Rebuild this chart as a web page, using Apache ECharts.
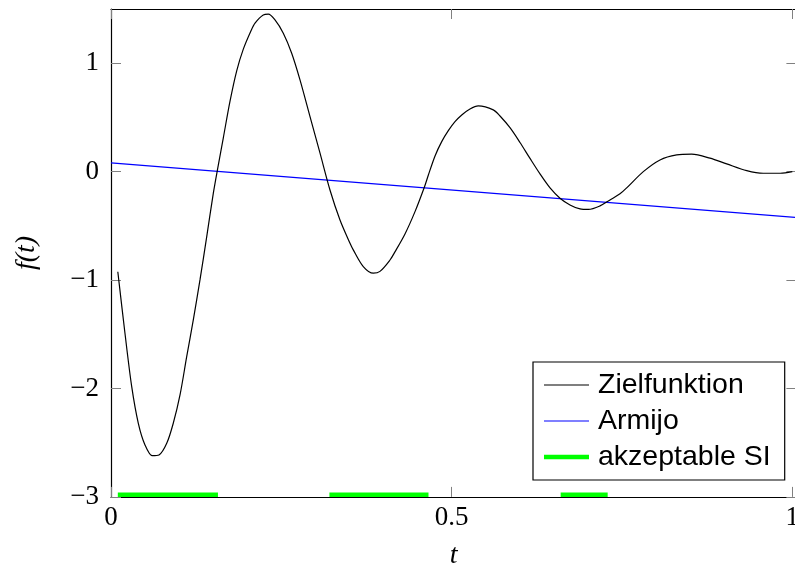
<!DOCTYPE html>
<html>
<head>
<meta charset="utf-8">
<script src="https://cdn.jsdelivr.net/npm/echarts@6/dist/echarts.min.js"></script>
<style>
  html, body { margin: 0; padding: 0; background: #fff; }
  #chart { width: 795px; height: 565px; }
</style>
</head>
<body>
<div id="chart"></div>
<script>
// ---- data ----
const zielT = [0.010, 0.0205, 0.0304, 0.0401, 0.0499, 0.0606, 0.0705, 0.0818, 0.0914, 0.1013,
  0.1111, 0.1208, 0.1306, 0.1405, 0.1502, 0.1575, 0.1648, 0.1747, 0.1845, 0.1942,
  0.2055, 0.2114, 0.2235, 0.2309, 0.2407, 0.2529, 0.2652, 0.2774, 0.2921, 0.3068,
  0.3214, 0.3361, 0.3508, 0.3556, 0.3703, 0.3850, 0.3948, 0.4095, 0.4168, 0.4315,
  0.4462, 0.4599, 0.4657, 0.4756, 0.4854, 0.4951, 0.5049, 0.5148, 0.5269, 0.5391,
  0.5611, 0.5710, 0.5856, 0.6003, 0.6150, 0.6297, 0.6444, 0.6590, 0.6737, 0.6884,
  0.7006, 0.7177, 0.7324, 0.7471, 0.7569, 0.7813, 0.8058, 0.8303, 0.8523, 0.8792,
  0.9037, 0.9331, 0.9574, 0.9823, 1.000];
const zielF = [-0.923, -1.491, -1.983, -2.321, -2.521, -2.620, -2.613, -2.506, -2.321, -2.060,
  -1.707, -1.368, -0.999, -0.600, -0.199, 0.060, 0.310, 0.650, 0.930, 1.130,
  1.300, 1.370, 1.445, 1.452, 1.399, 1.277, 1.092, 0.846, 0.507, 0.170,
  -0.169, -0.446, -0.661, -0.722, -0.876, -0.937, -0.920, -0.815, -0.740, -0.575,
  -0.369, -0.144, -0.033, 0.145, 0.277, 0.378, 0.461, 0.523, 0.578, 0.606,
  0.570, 0.513, 0.405, 0.269, 0.122, -0.021, -0.150, -0.245, -0.307, -0.344,
  -0.349, -0.316, -0.261, -0.205, -0.150, 0.000, 0.108, 0.154, 0.161, 0.124,
  0.071, 0.009, -0.015, -0.015, 0.000];

const armijoT = [0, 1.006];
const armijoF = [0.08, -0.423];

const siStart = [0.010, 0.3206, 0.660];
const siEnd   = [0.157, 0.466, 0.729];
const siLevel = -2.98;

const xTicks = [0, 0.5, 1];
const yTicks = [-3, -2, -1, 0, 1];
const legendNames = ['Zielfunktion', 'Armijo', 'akzeptable SI'];

// ---- build series data ----
const zielData = zielT.map((t, i) => [t, zielF[i]]);
const armijoData = armijoT.map((t, i) => [t, armijoF[i]]);
const siData = [];
siStart.forEach((s, i) => {
  siData.push([s, siLevel]);
  siData.push([siEnd[i], siLevel]);
  siData.push([siEnd[i], null]);
});

const serifFont = '"Liberation Serif", "DejaVu Serif", serif';
const sansFont = '"Liberation Sans", Arial, sans-serif';
const tickColor = '#808080';
const fmtNum = v => {
  const s = (Math.round(v * 1000) / 1000).toString();
  return s.replace('-', '\u2212');
};

const chart = echarts.init(document.getElementById('chart'), null, { renderer: 'canvas' });
chart.setOption({
  animation: false,
  backgroundColor: '#ffffff',
  grid: { left: 111, right: -1.4, top: 9, bottom: 68.1, containLabel: false, outerBoundsMode: 'none' },
  xAxis: [
    {
      type: 'value', position: 'bottom', min: 0, max: 1.006, interval: 0.5,
      name: 't', nameLocation: 'middle', nameGap: 45,
      nameTextStyle: { fontFamily: serifFont, fontStyle: 'italic', fontSize: 28, color: '#000' },
      axisLine: { show: true, onZero: false, lineStyle: { color: '#000', width: 1.2 } },
      axisTick: { show: true, inside: true, length: 10, customValues: xTicks, lineStyle: { color: tickColor, width: 1 } },
      axisLabel: { show: true, customValues: xTicks, margin: 8, formatter: fmtNum,
        fontFamily: serifFont, fontSize: 27, color: '#000' },
      splitLine: { show: false }
    },
    {
      type: 'value', position: 'top', min: 0, max: 1.006, interval: 0.5,
      axisLine: { show: true, onZero: false, lineStyle: { color: '#000', width: 1.2 } },
      axisTick: { show: true, inside: true, length: 10, customValues: xTicks, lineStyle: { color: tickColor, width: 1 } },
      axisLabel: { show: false },
      splitLine: { show: false }
    }
  ],
  yAxis: [
    {
      type: 'value', position: 'left', min: -3, max: 1.5, interval: 1,
      name: 'f(t)', nameLocation: 'middle', nameGap: 70, nameRotate: 90,
      nameTextStyle: { fontFamily: serifFont, fontStyle: 'italic', fontSize: 28, color: '#000' },
      axisLine: { show: true, onZero: false, lineStyle: { color: '#000', width: 1.2 } },
      axisTick: { show: true, inside: true, length: 10, customValues: yTicks, lineStyle: { color: tickColor, width: 1 } },
      axisLabel: { show: true, customValues: yTicks, margin: 12, formatter: fmtNum,
        fontFamily: serifFont, fontSize: 27, color: '#000' },
      splitLine: { show: false }
    },
    {
      type: 'value', position: 'right', min: -3, max: 1.5, interval: 1,
      axisLine: { show: true, onZero: false, lineStyle: { color: '#000', width: 1.2 } },
      axisTick: { show: true, inside: true, length: 10, customValues: yTicks, lineStyle: { color: tickColor, width: 1 } },
      axisLabel: { show: false },
      splitLine: { show: false }
    }
  ],
  legend: {
    orient: 'vertical', left: 533, top: 362,
    padding: [8, 14, 8, 11],
    backgroundColor: '#fff', borderColor: '#000', borderWidth: 1.2, borderRadius: 0,
    itemWidth: 45, itemHeight: 14, itemGap: 6,
    itemStyle: { borderWidth: 0 },
    textStyle: { fontFamily: sansFont, fontSize: 28.5, color: '#000', lineHeight: 30, padding: [0, 0, 0, 4] },
    data: [
      { name: legendNames[0], icon: 'path://M0,0H45V1.2H0Z' },
      { name: legendNames[1], icon: 'path://M0,0H45V1.2H0Z' },
      { name: legendNames[2], icon: 'path://M0,0H45V4.3H0Z' }
    ]
  },
  series: [
    {
      name: legendNames[0], type: 'line', data: zielData, symbol: 'none', showSymbol: false,
      smooth: 0.3,
      lineStyle: { color: '#000', width: 1.2 }, itemStyle: { color: '#000' }, z: 3
    },
    {
      name: legendNames[1], type: 'line', data: armijoData, symbol: 'none', showSymbol: false,
      lineStyle: { color: '#0000ff', width: 1.2 }, itemStyle: { color: '#0000ff' }, z: 2
    },
    {
      name: legendNames[2], type: 'line', data: siData, symbol: 'none', showSymbol: false,
      connectNulls: false,
      lineStyle: { color: '#00ff00', width: 4.3, cap: 'butt' }, itemStyle: { color: '#00ff00' }, z: 1
    }
  ]
});
</script>
</body>
</html>
